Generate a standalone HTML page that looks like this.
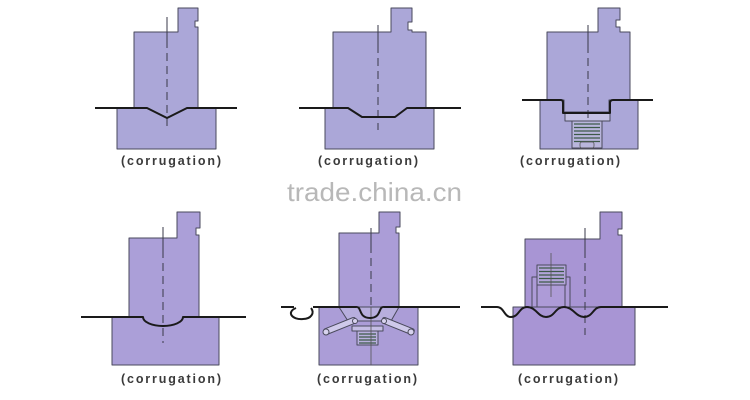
<!DOCTYPE html>
<html><head><meta charset="utf-8"><style>
html,body{margin:0;padding:0;background:#fff;}
svg{display:block;}
text{font-family:"Liberation Sans",sans-serif;}
</style></head><body>
<svg width="750" height="400" viewBox="0 0 750 400" xmlns="http://www.w3.org/2000/svg">
<rect width="750" height="400" fill="#fff"/>
<g stroke="#4a4a5c" stroke-width="1" stroke-linejoin="round">
<!-- Diagram 1 -->
<rect x="117" y="108" width="99" height="41" fill="#aba7d8"/>
<path d="M134,108 V32 H178 V8 H198 V21 H195 V27 H198 V108 H187 L167,118 L147,108 Z" fill="#aba7d8"/>
<!-- Diagram 2 -->
<rect x="325" y="108" width="109" height="41" fill="#aba7d8"/>
<path d="M333,108 V32 H391 V8 H412 V22 H408 V30 H412 V32 H426 V108 H407 L395,117 H362 L348,108 Z" fill="#aba7d8"/>
<!-- Diagram 3 -->
<rect x="540" y="100" width="98" height="49" fill="#aba7d8"/>
<path d="M547,100 V32 H598 V8 H620 V20 H616 V27 H620 V32 H630 V100 H609 V112 H564 V100 Z" fill="#aba7d8"/>
<rect x="565" y="113" width="45" height="8" fill="#c4c1e3"/>
<rect x="572" y="121" width="30" height="27" fill="#b9b6dc"/>
<!-- Diagram 4 -->
<rect x="112" y="317" width="107" height="48" fill="#ab9fd8"/>
<path d="M129,317 V238 H177 V212 H200 V228 H196 V235 H199 V317 H183 A20,9 0 0 1 143,317 Z" fill="#ab9fd8"/>
<!-- Diagram 5 -->
<rect x="319" y="307" width="99" height="58" fill="#ab9dd7"/>
<path d="M339,307 V233 H379 V212 H400 V227 H396 V233 H399 V307 Z" fill="#ab9dd7"/>
<path d="M339,307 L348,321 H391 L399,307 Z" fill="#b7aedd"/>
<rect x="352" y="326" width="31" height="5" fill="#c4bde4"/>
<rect x="357" y="331" width="21" height="14" fill="#b9b0de"/>
<g transform="rotate(-22 340 326)"><rect x="323" y="323" width="34" height="6" rx="2" fill="#cfc9ea"/></g>
<g transform="rotate(22 398 326)"><rect x="381" y="323" width="34" height="6" rx="2" fill="#cfc9ea"/></g>
<circle cx="326" cy="332" r="3" fill="#d8d3ee"/>
<circle cx="411" cy="332" r="3" fill="#d8d3ee"/>
<circle cx="355" cy="321" r="2.5" fill="#d8d3ee"/>
<circle cx="384" cy="321" r="2.5" fill="#d8d3ee"/>
<!-- Diagram 6 -->
<rect x="513" y="307" width="122" height="58" fill="#a895d4"/>
<path d="M525,307 V239 H600 V212 H622 V229 H618 V235 H622 V307 Z" fill="#a895d4"/>
<rect x="532" y="277" width="38" height="30" fill="#ad9bd7"/>
<path d="M537,277 V307 M565,277 V307" fill="none"/>
<rect x="537" y="265" width="29" height="20" fill="#b3a5da"/>
</g>

<!-- springs coils -->
<g stroke="#3d5a48" stroke-width="1.3" fill="none">
<path d="M574,124 H600 M574,127.5 H600 M574,131 H600 M574,134.5 H600 M574,138 H600 M574,141.5 H600"/>
<path d="M359,334 H376 M359,337 H376 M359,340 H376 M359,343 H376"/>
<path d="M539,268 H564 M539,271.5 H564 M539,275 H564 M539,278.5 H564 M539,282 H564"/>
</g>
<g stroke="#555" stroke-width="0.8" fill="none">
<rect x="580" y="142" width="14" height="6" rx="2"/>
<path d="M551,253 V297"/>
<path d="M371,307 V365"/>
</g>

<!-- center lines -->
<g stroke="#3a3a48" stroke-width="1" fill="none">
<path d="M167,17 V40" /><path d="M167,40 V128" stroke-dasharray="8,5"/>
<path d="M378,25 V45" /><path d="M378,45 V130" stroke-dasharray="8,5"/>
<path d="M588,25 V45" /><path d="M588,45 V118" stroke-dasharray="8,5"/>
<path d="M163,227 V250" /><path d="M163,250 V343" stroke-dasharray="8,5"/>
<path d="M371,228 V245" /><path d="M371,245 V307" stroke-dasharray="8,5"/>
<path d="M585,228 V250" /><path d="M585,250 V335" stroke-dasharray="8,5"/>
</g>

<!-- sheets -->
<g stroke="#1a1a1a" stroke-width="2" fill="none" stroke-linejoin="round">
<path d="M95,108 H147 L167,118 L187,108 H237"/>
<path d="M299,108 H348 L362,117 H395 L407,108 H461"/>
<path d="M522,100 H561 Q563,100 563,103 V113 H610 V103 Q610,100 613,100 H653"/>
<path d="M81,317 H143 A20,9 0 0 0 183,317 H246"/>
<path d="M281,307 H294"/>
<path d="M296,308 C286,312 292,320 303,319 C311,319 315,313 311,308"/>
<path d="M313,307 H356"/>
<path d="M356,307 C362,306 358,318 370,318 C382,318 378,306 384,307"/>
<path d="M384,307 H460"/>
<path d="M481,307 H497 C504,307 504,317 511,317 C519,317 519,307 527,307 C536,307 538,317 546,317 C555,317 555,307 564,307 C573,307 576,317 584,317 C593,317 593,307 601,307 H668"/>
</g>

<!-- watermark -->
<text x="287" y="201" font-size="26" fill="#b8b8b8" textLength="175" lengthAdjust="spacingAndGlyphs">trade.china.cn</text>

<!-- labels -->
<g font-size="12.5" font-weight="bold" fill="#3a3a3a">
<text x="121" y="165" textLength="100" lengthAdjust="spacing">(corrugation)</text>
<text x="318" y="165" textLength="100" lengthAdjust="spacing">(corrugation)</text>
<text x="520" y="165" textLength="100" lengthAdjust="spacing">(corrugation)</text>
<text x="121" y="383" textLength="100" lengthAdjust="spacing">(corrugation)</text>
<text x="317" y="383" textLength="100" lengthAdjust="spacing">(corrugation)</text>
<text x="518" y="383" textLength="100" lengthAdjust="spacing">(corrugation)</text>
</g>
</svg>
</body></html>
